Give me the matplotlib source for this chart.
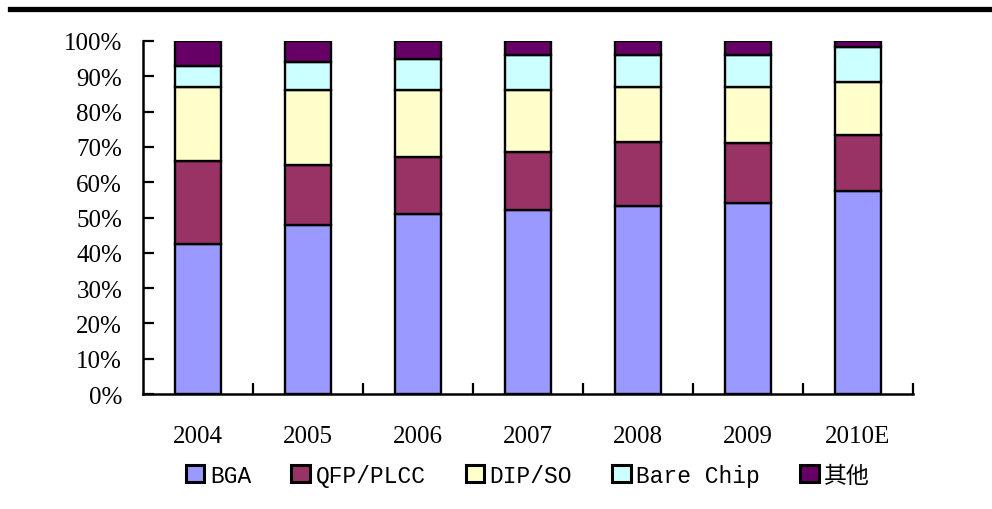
import matplotlib.pyplot as plt
from matplotlib.lines import Line2D
import numpy as np

plt.rcParams['font.family'] = ['Liberation Serif', 'Noto Sans CJK SC']

years = ['2004', '2005', '2006', '2007', '2008', '2009', '2010E']
series_names = ['BGA', 'QFP/PLCC', 'DIP/SO', 'Bare Chip', '其他']

# 各封装类型占比 (%)
bga = [42.5, 48, 51, 52, 53.3, 54, 57.4]
qfp_plcc = [23.5, 17, 16, 16.6, 18, 17, 16]
dip_so = [21, 21, 19, 17.6, 15.7, 16, 15]
bare_chip = [6, 8, 9, 9.8, 9, 9, 10]
others = [7, 6, 5, 4, 4, 4, 1.6]

colors = ['#9999FF', '#993366', '#FFFFCC', '#CCFFFF', '#660066']

fig = plt.figure(figsize=(9.92, 5.10), dpi=100)
ax = fig.add_axes([143 / 992, 1 - 395 / 510, 770 / 992, 353 / 510])

x = np.arange(len(years))
bottom = np.zeros(len(years))
for name, vals, c in zip(series_names, [bga, qfp_plcc, dip_so, bare_chip, others], colors):
    vals = np.array(vals)
    ax.bar(x, vals, 0.41, bottom=bottom, color=c, edgecolor='black',
           linewidth=1.7, label=name, zorder=3)
    bottom += vals

ax.set_xlim(-0.5, len(years) - 0.5)
ax.set_ylim(0, 100)
ax.set_yticks(np.arange(0, 101, 10))
ax.set_yticklabels([f'{v}%' for v in range(0, 101, 10)])
ax.set_xticks(x)
ax.set_xticklabels(years)
ax.tick_params(axis='x', length=0, pad=22, labelsize=18)
ax.tick_params(axis='y', direction='in', length=8, width=1.6, pad=15, labelsize=18)

# 分类边界处的短刻度
ax.set_xticks(np.arange(0.5, len(years), 1), minor=True)
ax.tick_params(axis='x', which='minor', direction='in', length=8, width=1.6)

for s in ['top', 'right']:
    ax.spines[s].set_visible(False)
for s in ['left', 'bottom']:
    ax.spines[s].set_linewidth(1.8)

leg = ax.legend(loc='upper center', bbox_to_anchor=(0.5, -0.171), ncol=5, frameon=False,
                prop={'family': ['Liberation Mono', 'Noto Sans CJK SC'], 'size': 16.5},
                handlelength=0.8, handleheight=0.8, handletextpad=0.25,
                columnspacing=1.75, borderaxespad=0)
for h in leg.legend_handles:
    h.set_linewidth(2.2)

fig.add_artist(Line2D([10 / 992, 1], [1 - 9.5 / 510] * 2, color='black', linewidth=3.8))

fig.savefig('out.png', dpi=100)
